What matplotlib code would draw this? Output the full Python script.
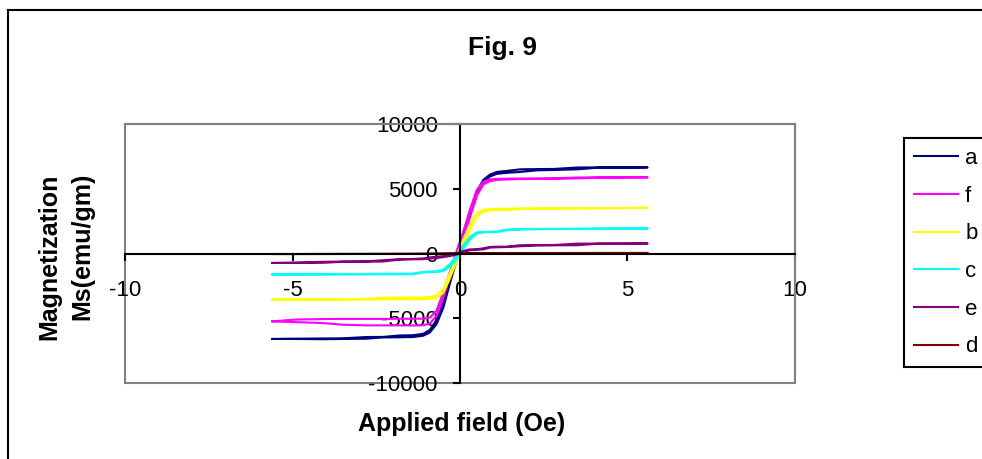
import matplotlib
matplotlib.use("Agg")
import matplotlib.pyplot as plt
from matplotlib.patches import Rectangle
from matplotlib.lines import Line2D

plt.rcParams['font.family'] = ['Liberation Sans', 'DejaVu Sans']
plt.rcParams['axes.unicode_minus'] = False

# applied field grid (same for every sample)
field = [-5.6, -4.9, -4.1, -3.5, -2.8, -2.3, -1.8, -1.4, -1.1, -0.9, -0.7, -0.5, -0.3, -0.1,
         0.1, 0.3, 0.5, 0.7, 0.9, 1.1, 1.4, 1.8, 2.3, 2.8, 3.5, 4.1, 4.9, 5.6]

# ascending branch (lower) and descending branch (upper) for each sample
a_up = [-6600, -6600, -6620, -6600, -6580, -6480, -6470, -6450, -6350, -6100, -5450, -4200, -2300, -500,
        1100, 2900, 4500, 5500, 5950, 6150, 6230, 6300, 6420, 6450, 6500, 6620, 6630, 6650]
a_down = [-6600, -6580, -6560, -6550, -6450, -6440, -6330, -6310, -6200, -5900, -5150, -3800, -1900, -100,
          1600, 3300, 4800, 5700, 6100, 6300, 6380, 6500, 6520, 6530, 6640, 6650, 6650, 6650]

f_up = [-5240, -5300, -5370, -5500, -5550, -5550, -5550, -5560, -5540, -5400, -4800, -3400, -1800, -200,
        1200, 2900, 4500, 5350, 5600, 5680, 5720, 5750, 5760, 5770, 5800, 5850, 5870, 5880]
f_down = [-5240, -5100, -5060, -5050, -5050, -5050, -5040, -5040, -5030, -4950, -4400, -3000, -1400, 200,
          1700, 3400, 4900, 5550, 5720, 5760, 5780, 5790, 5790, 5800, 5870, 5880, 5880, 5880]

b_up = [-3560, -3560, -3560, -3550, -3550, -3550, -3540, -3540, -3530, -3500, -3420, -3050, -1900, -600,
        700, 1900, 2900, 3250, 3330, 3350, 3380, 3430, 3460, 3470, 3480, 3490, 3500, 3530]
b_down = [-3560, -3550, -3550, -3540, -3500, -3420, -3400, -3400, -3390, -3360, -3250, -2700, -1500, -200,
          1100, 2300, 3150, 3380, 3430, 3450, 3460, 3480, 3480, 3490, 3500, 3510, 3520, 3530]

c_up = [-1620, -1620, -1620, -1610, -1610, -1600, -1600, -1600, -1450, -1440, -1420, -1350, -1000, -400,
        400, 1100, 1550, 1640, 1660, 1670, 1800, 1860, 1880, 1890, 1900, 1910, 1920, 1930]
c_down = [-1620, -1610, -1600, -1590, -1580, -1570, -1560, -1550, -1420, -1400, -1380, -1250, -800, -150,
          650, 1300, 1630, 1670, 1680, 1690, 1850, 1880, 1890, 1900, 1910, 1920, 1930, 1930]

e_up = [-730, -730, -720, -640, -630, -620, -470, -450, -440, -400, -350, -280, -200, -80,
        120, 250, 290, 320, 460, 480, 500, 560, 620, 630, 640, 750, 760, 770]
e_down = [-730, -700, -640, -620, -610, -520, -440, -420, -380, -300, -250, -200, -120, 0,
          200, 320, 330, 400, 510, 520, 530, 640, 650, 660, 760, 770, 770, 770]

d_up = [-40, -40, -40, -35, -35, -30, -30, -25, -25, -20, -20, -15, -10, -5,
        5, 10, 15, 20, 20, 25, 25, 30, 30, 35, 35, 40, 40, 40]
d_down = [-40, -40, -35, -35, -30, -30, -25, -25, -20, -20, -15, -10, -5, 0,
          10, 15, 20, 20, 25, 25, 30, 30, 35, 35, 40, 40, 40, 40]

labels = ['a', 'f', 'b', 'c', 'e', 'd']
colors = ['#000080', '#FF00FF', '#FFFF00', '#00FFFF', '#800080', '#800000']
ups = [a_up, f_up, b_up, c_up, e_up, d_up]
downs = [a_down, f_down, b_down, c_down, e_down, d_down]

fig = plt.figure(figsize=(9.82, 4.59), dpi=100)
ax = fig.add_axes([125/982, 1-383/459, 670/982, 259/459])

for lab, col, up, dn in zip(labels, colors, ups, downs):
    xs = field + field[::-1]
    ys = up + dn[::-1]
    ax.plot(xs, ys, color=col, lw=1.5, label=lab)

ax.set_xlim(-10, 10)
ax.set_ylim(-10000, 10000)
ax.set_xticks([-10, -5, 0, 5, 10])
ax.set_yticks([-10000, -5000, 0, 5000, 10000])

for s in ['left', 'bottom']:
    ax.spines[s].set_position(('data', 0))
    ax.spines[s].set_color('black')
    ax.spines[s].set_linewidth(1.5)
for s in ['top', 'right']:
    ax.spines[s].set_color('#808080')
    ax.spines[s].set_linewidth(1.5)
ax.add_patch(Rectangle((0, 0), 1, 1, transform=ax.transAxes, fill=False,
                       edgecolor='#808080', lw=1.5, clip_on=False, zorder=0))

ax.tick_params(axis='y', direction='out', length=5, width=1.5, pad=11, labelsize=16)
ax.tick_params(axis='x', direction='out', length=5, width=1.5, pad=14, labelsize=16)

leg = ax.legend(loc='upper left', bbox_to_anchor=(904/982, 1-138/459),
                bbox_transform=fig.transFigure, fontsize=16, frameon=True,
                fancybox=False, edgecolor='black', framealpha=1, borderaxespad=0,
                handlelength=2.0, handletextpad=0.3, labelspacing=0.75, borderpad=0.45)
leg.get_frame().set_linewidth(1.5)

fig.text(502.5/982, 1-48/459, 'Fig. 9', ha='center', va='center', fontsize=19, fontweight='bold')
fig.text(462/982, 1-424/459, 'Applied field (Oe)', ha='center', va='center', fontsize=18, fontweight='bold')
fig.text(49/982, 1-257/459, 'Magnetization', rotation=90, ha='center', va='center',
         fontsize=18, fontweight='bold')
fig.text(82/982, 1-246/459, 'Ms(emu/gm)', rotation=90, ha='center', va='center',
         fontsize=18, fontweight='bold')

# outer frame (only the left and top edges show)
fig.add_artist(Line2D([8/982, 8/982], [0, 1-10/459], transform=fig.transFigure, color='black', lw=1.5))
fig.add_artist(Line2D([8/982, 1], [1-10/459, 1-10/459], transform=fig.transFigure, color='black', lw=1.5))

fig.savefig('out.png', dpi=100)
